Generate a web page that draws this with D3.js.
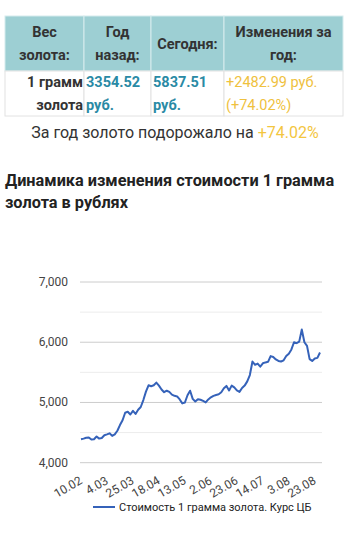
<!DOCTYPE html>
<html>
<head>
<meta charset="utf-8">
<script src="https://cdn.jsdelivr.net/npm/d3@7"></script>
<style>
  body { margin: 0; background: #fff; }
  text { font-family: Roboto, "Noto Sans", sans-serif; }
</style>
</head>
<body>
<div id="graph"></div>
<script>
// table
var headCells = [["Вес", "золота:"], ["Год", "назад:"], ["Сегодня:"], ["Изменения за", "год:"]];
var bodyCells = [["1 грамм", "золота"], ["3354.52", "руб."], ["5837.51", "руб."], ["+2482.99 руб.", "(+74.02%)"]];
var summaryText = "За год золото подорожало на ";
var summaryPct = "+74.02%";
var chartTitle = ["Динамика изменения стоимости 1 грамма", "золота в рублях"];

// chart data: gold price, rub per gram (sampled along the period)
var prices = [
  4390, 4400, 4415, 4420, 4385, 4390, 4435, 4400, 4410, 4455,
  4470, 4488, 4445, 4470, 4530, 4625, 4705, 4830, 4845, 4800,
  4860, 4810, 4880, 4925, 5040, 5180, 5285, 5270, 5285, 5330,
  5280, 5215, 5170, 5195, 5175, 5130, 5110, 5100, 5050, 4985,
  5000, 5120, 5195, 5060, 5015, 5055, 5045, 5025, 5000, 5050,
  5085, 5110, 5125, 5135, 5170, 5235, 5275, 5200, 5280, 5250,
  5200, 5175, 5240, 5280, 5350, 5455, 5680, 5625, 5645, 5595,
  5650, 5665, 5675, 5770, 5755, 5715, 5690, 5680, 5700, 5770,
  5810, 5880, 6000, 5985, 6010, 6210, 6000, 5940, 5720, 5690,
  5730, 5740, 5830
];
var dateLabels = ["10.02", "4.03", "25.03", "18.04", "13.05", "2.06", "23.06", "14.07", "3.08", "23.08"];
var labelStep = 10;
var yTicks = [4000, 5000, 6000, 7000];
var yMinor = [4500, 5500, 6500];
var seriesName = "Стоимость 1 грамма золота. Курс ЦБ";

var width = 350;
var height = 540;

var svg = d3.select('#graph')
    .append('svg')
    .attr('width', width)
    .attr('height', height);

// ---- table ----
var colX = [5, 84, 151, 224, 343];
var rowY = [16, 71, 116];

var tbl = svg.append("g");
tbl.selectAll("rect.head")
    .data(headCells)
    .enter()
    .append("rect")
    .attr("x", (d, i) => colX[i])
    .attr("y", rowY[0])
    .attr("width", (d, i) => colX[i + 1] - colX[i])
    .attr("height", rowY[1] - rowY[0])
    .attr("fill", "#9dcfd3")
    .attr("stroke", "#d6ecee")
    .attr("stroke-width", 1);

tbl.selectAll("rect.body")
    .data(bodyCells)
    .enter()
    .append("rect")
    .attr("x", (d, i) => colX[i])
    .attr("y", rowY[1])
    .attr("width", (d, i) => colX[i + 1] - colX[i])
    .attr("height", rowY[2] - rowY[1])
    .attr("fill", "#fff")
    .attr("stroke", "#e2e2e2")
    .attr("stroke-width", 1);

headCells.forEach(function(lines, i) {
    var cx = (colX[i] + colX[i + 1]) / 2;
    var mid = (rowY[0] + rowY[1]) / 2;
    var t = tbl.append("text")
        .attr("text-anchor", "middle")
        .attr("font-size", 14.5)
        .attr("font-weight", "bold")
        .attr("fill", "#333");
    lines.forEach(function(s, k) {
        t.append("tspan")
            .attr("x", cx)
            .attr("y", mid + 5 + (k - (lines.length - 1) / 2) * 23)
            .text(s);
    });
});

var bodyColors = ["#333", "#2a8aa5", "#2a8aa5", "#efc13e"];
var bodyWeights = ["bold", "bold", "bold", "normal"];
bodyCells.forEach(function(lines, i) {
    var t = tbl.append("text")
        .attr("text-anchor", i == 0 ? "end" : "start")
        .attr("font-size", 14.5)
        .attr("font-weight", bodyWeights[i])
        .attr("fill", bodyColors[i]);
    lines.forEach(function(s, k) {
        t.append("tspan")
            .attr("x", i == 0 ? colX[1] - 1 : colX[i] + 2)
            .attr("y", 87 + k * 23)
            .text(s);
    });
});

var summary = svg.append("text")
    .attr("x", width / 2)
    .attr("y", 138)
    .attr("text-anchor", "middle")
    .attr("font-size", 16)
    .attr("fill", "#333");
summary.append("tspan").text(summaryText);
summary.append("tspan").attr("fill", "#f3c63f").text(summaryPct);

svg.append("g")
    .selectAll("text")
    .data(chartTitle)
    .enter()
    .append("text")
    .attr("x", 5)
    .attr("y", (d, i) => 186 + i * 22)
    .attr("font-size", 16.3)
    .attr("font-weight", "bold")
    .attr("fill", "#222")
    .text(d => d);

// ---- chart ----
var scaleX = d3.scaleLinear()
    .domain([0, prices.length - 1])
    .range([81, 320]);

var scaleY = d3.scaleLinear()
    .domain([4000, 7000])
    .range([462.7, 282]);

var grid = svg.append("g");
grid.selectAll("line.minor")
    .data(yMinor)
    .enter()
    .append("line")
    .attr("x1", 80).attr("x2", 322)
    .attr("y1", d => scaleY(d)).attr("y2", d => scaleY(d))
    .attr("stroke", "#ececec");
grid.selectAll("line.major")
    .data(yTicks)
    .enter()
    .append("line")
    .attr("x1", 80).attr("x2", 322)
    .attr("y1", d => scaleY(d)).attr("y2", d => scaleY(d))
    .attr("stroke", "#cccccc");

svg.append("g")
    .selectAll("text")
    .data(yTicks)
    .enter()
    .append("text")
    .attr("x", 68)
    .attr("y", d => scaleY(d) + 4)
    .attr("text-anchor", "end")
    .attr("font-size", 12)
    .attr("fill", "#444")
    .text(d => d3.format(",")(d));

svg.append("g")
    .selectAll("text")
    .data(dateLabels)
    .enter()
    .append("text")
    .attr("transform", (d, i) => "translate(" + (scaleX(i * labelStep) + 2) + ",483) rotate(-30)")
    .attr("text-anchor", "end")
    .attr("font-size", 12)
    .attr("fill", "#444")
    .text(d => d);

var line = d3.line()
    .x((d, i) => scaleX(i))
    .y(d => scaleY(d));

svg.append("path")
    .datum(prices)
    .attr("d", line)
    .attr("fill", "none")
    .attr("stroke", "#3562b9")
    .attr("stroke-width", 2)
    .attr("stroke-linejoin", "round");

// legend
svg.append("line")
    .attr("x1", 93).attr("x2", 115)
    .attr("y1", 507).attr("y2", 507)
    .attr("stroke", "#3562b9")
    .attr("stroke-width", 2);
svg.append("text")
    .attr("x", 119)
    .attr("y", 511)
    .attr("font-size", 11)
    .attr("fill", "#222")
    .text(seriesName);
</script>
</body>
</html>
